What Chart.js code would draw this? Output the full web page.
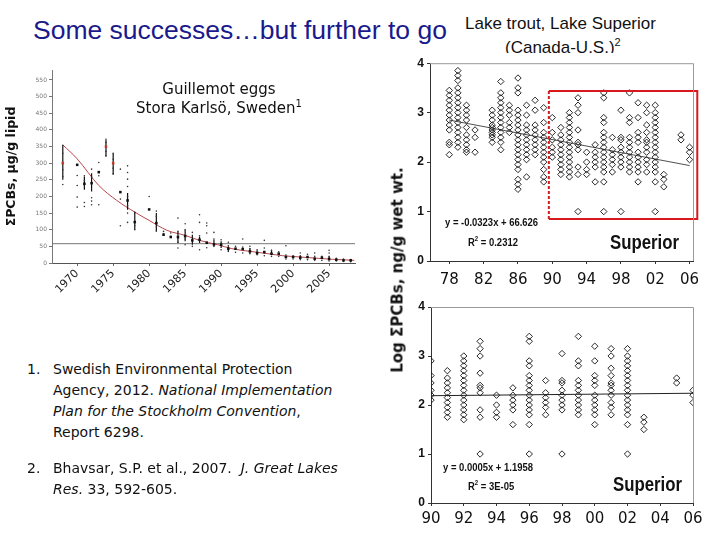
<!DOCTYPE html>
<html>
<head>
<meta charset="utf-8">
<script src="https://cdn.jsdelivr.net/npm/chart.js@4/dist/chart.umd.min.js"></script>
<style>
body{margin:0;background:#fff;}
#page{position:relative;width:720px;height:540px;overflow:hidden;font-family:"DejaVu Sans",sans-serif;color:#111;}
.abs{position:absolute;white-space:nowrap;line-height:1;}
canvas{position:absolute;}
.eq{font-family:"Liberation Sans",sans-serif;font-weight:bold;font-size:11px;transform:scaleX(0.86);transform-origin:0 0;}
.lake{font-family:"Liberation Sans",sans-serif;font-weight:bold;font-size:21px;transform:scaleX(0.8);transform-origin:0 0;}
.ref{position:absolute;left:27px;font-size:14px;line-height:21px;}
.ref .n{position:absolute;left:0;}
.ref .t{margin-left:26px;}
sup{line-height:0;}
</style>
</head>
<body>
<div id="page">
  <div class="abs" style="left:33px;top:17px;font-family:'Liberation Sans',sans-serif;font-size:26.5px;color:#1a1a8c;">Some successes…but further to go</div>
  <div class="abs" style="left:465px;top:15px;font-family:'Liberation Sans',sans-serif;font-size:17px;">Lake trout, Lake Superior</div>
  <div class="abs" style="left:505px;top:39px;font-family:'Liberation Sans',sans-serif;font-size:17px;">(Canada-U.S.)<sup style="font-size:11px">2</sup></div>

  <canvas id="guillemot" width="370" height="240" style="left:0;top:60px"></canvas>
  <canvas id="trout_all" width="320" height="237" style="left:400px;top:53px;background:#fff"></canvas>
  <canvas id="trout_90" width="320" height="250" style="left:400px;top:290px"></canvas>

  <div class="abs" style="left:119px;top:80px;width:200px;text-align:center;font-size:15px;line-height:19px;">Guillemot eggs<br>Stora Karlsö, Sweden<sup style="font-size:10px">1</sup></div>

  <div class="abs" style="left:398px;top:270px;font-size:15px;font-weight:bold;transform:translate(-50%,-50%) rotate(-90deg);">Log ΣPCBs, ng/g wet wt.</div>

  <div class="abs eq" style="left:445px;top:217px;">y = -0.0323x + 66.626</div>
  <div class="abs eq" style="left:468px;top:237px;">R<sup style="font-size:7px">2</sup> = 0.2312</div>
  <div class="abs lake" style="left:610px;top:231px;">Superior</div>

  <div class="abs eq" style="left:443px;top:462px;">y = 0.0005x + 1.1958</div>
  <div class="abs eq" style="left:468px;top:481px;">R<sup style="font-size:7px">2</sup> = 3E-05</div>
  <div class="abs lake" style="left:613px;top:473px;">Superior</div>

  <div class="ref" style="top:359px;"><span class="n">1.</span><div class="t">Swedish Environmental Protection<br>Agency, 2012. <i>National Implementation<br>Plan for the Stockholm Convention</i>,<br>Report 6298.</div></div>
  <div class="ref" style="top:458px;"><span class="n">2.</span><div class="t">Bhavsar, S.P. et al., 2007.&nbsp; <i>J. Great Lakes<br>Res.</i> 33, 592-605.</div></div>
</div>
<script>
// Guillemot eggs, Stora Karlso - sum PCBs, ug/g lipid
var guilMeanYears = [1968,1970,1971,1972,1973,1974,1975,1976,1977,1978,1980,1981,1982,1983,1984,1985,1986,1987,1988,1989,1990,1991,1992,1993,1994,1995,1996,1997,1998,1999,2000,2001,2002,2003,2004,2005,2006,2007,2008];
var guilMeanValues = [300,295,238,240,273,350,300,213,188,123,161,120,85,78,78,81,68,70,61,56,55,43,43,42,35,30,33,28,28,18,18,16,18,13,16,12,10,8,8];
var guilRedYears = [1968,1974,1975];

var guilBarYears = [1968,1971,1972,1974,1975,1977,1978,1981,1984,1985,1986,1987,1989,1990,1991,1994,1995,1997,2001,2005];
var guilBarLow  = [250,220,215,320,265,160,100,95,60,65,55,60,50,45,35,28,25,25,12,8];
var guilBarHigh = [355,260,270,370,330,210,155,150,95,100,85,80,70,65,50,45,38,40,22,22];

var guilSampleYears = [1968,1970,1971,1972,1973,1974,1975,1976,1977,1978,1980,1981,1982,1983,1984,1985,1986,1987,1988,1989,1990,1991,1992,1993,1994,1995,1996,1997,1998,1999,2000,2001,2002,2003,2004,2005,2006,2007,2008];
var guilSamples = [
  [236,260,280,330],[168,198,233,263],[170,182,235,248,262],[175,186,196,258,282],[175,262,302],
  [322,335,348,362,372],[268,285,312,330],[112,192,282],[122,150,172,200,230,252,272,292],[100,112,150],
  [200],[96,108,140,156],[88,95],[80,90],[45,62,75,95,135],[55,72,100,118],[50,92],[40,82,122,145],
  [46,90,112,120],[50,72,92],[40,70],[35,52,62],[32,50],[30,48,72],[28,42,50],[25,40],[22,30,45,68],
  [20,38],[20,34],[12,24,52],[12,22],[10,22,30],[10,26],[8,20,30],[8,20],[6,18,30,38],[6,14],[5,12],[4,10]
];

var guilFitYears  = [1968,1970,1973,1975.5,1978,1980,1982.5,1985,1987,1989.5,1991.5,1994,1996.5,1998.5,2001,2003.5,2005.5,2008.5];
var guilFitValues = [355,313,233,188,153,128,98,83,68,55,43,35,28,22,18,14,11,8];
var guilTarget = 58;

var guilXTicks = [1970,1975,1980,1985,1990,1995,2000,2005];
var guilYTicks = [0,50,100,150,200,250,300,350,400,450,500,550];

// Lake trout, Lake Superior - log sum PCBs, ng/g wet wt.
var troutYears = [1978,1979,1980,1981,1983,1984,1985,1986,1987,1988,1989,1990,1991,1992,1993,1994,1995,1996,1997,1998,1999,2000,2001,2002,2003,2005,2006];
var troutValues = [
  [3.45,3.35,3.25,3.15,3.05,2.95,2.85,2.75,2.65,2.4,2.35,2.15],
  [3.85,3.75,3.65,3.5,3.4,3.3,3.2,3.1,3.0,2.9,2.8,2.7,2.6,2.5,2.4,2.3],
  [3.15,3.05,2.95,2.85,2.7,2.55,2.45,2.35,2.25,2.2],
  [2.65,2.5,2.2],
  [3.05,2.95,2.85,2.75,2.7,2.65,2.6,2.55,2.5,2.4],
  [3.63,3.4,3.3,3.2,3.1,3.0,2.9,2.8,2.7,2.6,2.5,2.4,2.25],
  [3.15,3.05,2.95,2.8,2.7,2.6],
  [3.7,3.5,3.4,3.05,2.95,2.85,2.75,2.65,2.55,2.45,2.35,2.25,2.15,2.05,1.95,1.85,1.65,1.55,1.45],
  [3.15,2.95,2.75,2.65,2.55,2.45,2.35,2.25,2.15,2.05,1.7],
  [3.25,3.05,2.75,2.65,2.55,2.45,2.35,2.25,2.15],
  [3.1,2.8,2.6,2.5,2.4,2.3,2.2,2.1,2.0,1.85,1.7,1.6],
  [2.9,2.6,2.45,2.3,2.2,2.1],
  [2.7,2.55,2.45,2.35,2.25,2.15,2.05,1.95,1.85,1.75],
  [3.0,2.9,2.8,2.7,2.6,2.5,2.4,2.3,2.2,2.1,2.0,1.9,1.8,1.7],
  [3.3,3.15,3.0,2.65,2.4,2.35,2.25,1.9,1.75,1.0],
  [2.2,2.0,1.85,1.75],
  [2.35,2.2,2.1,2.0,1.9,1.6],
  [3.4,3.3,2.9,2.8,2.6,2.5,2.4,2.3,2.2,2.1,2.0,1.9,1.8,1.6,1.0],
  [2.5,2.25,2.15,2.05,1.95,1.8],
  [3.05,2.5,2.45,2.3,2.2,2.1,2.0,1.9,1.0],
  [3.4,2.9,2.8,2.5,2.4,2.3,2.2,2.1,2.0,1.9,1.8],
  [3.2,2.9,2.6,2.5,2.4,2.2,2.1,2.0,1.9,1.8,1.6],
  [3.15,3.0,2.75,2.6,2.45,2.4,2.3,2.2,2.05,1.95,1.8],
  [3.15,3.0,2.9,2.8,2.7,2.6,2.5,2.4,2.3,2.2,2.1,2.0,1.9,1.8,1.6,1.0],
  [1.75,1.65,1.5],
  [2.55,2.45],
  [2.3,2.2,2.05]
];
var troutTrendYears = [1978,2006];
var troutTrendValues = [2.85,1.93];
var recentTrendYears = [1990,2006];
var recentTrendValues = [2.19,2.24];
var boxYears = [1989.6,2006.9];
var boxValues = [0.85,3.44];

var troutYTicks = [0,1,2,3,4];
var troutXTicks = [1978,1982,1986,1990,1994,1998,2002,2006];
var recentXTicks = [1990,1992,1994,1996,1998,2000,2002,2004,2006];

function pairs(xs, ys) {
  return xs.map(function (x, i) { return {x: x, y: ys[i]}; });
}
function spread(years, lists, fromYear) {
  var out = [];
  years.forEach(function (yr, i) {
    if (yr < fromYear) return;
    lists[i].forEach(function (v) { out.push({x: yr, y: v}); });
  });
  return out;
}
// low-high segments separated by gaps, drawn as one line dataset
function whiskers(xs, lo, hi) {
  var out = [];
  xs.forEach(function (x, i) {
    out.push({x: x, y: lo[i]}, {x: x, y: hi[i]}, {x: x, y: null});
  });
  return out;
}
function fixTicks(list) {
  return function (scale) { scale.ticks = list.map(function (v) { return {value: v}; }); };
}

// grey frame on top and right of the trout plots
var frame = {
  id: 'frame',
  afterDraw: function (chart) {
    var a = chart.chartArea, ctx = chart.ctx;
    ctx.save();
    ctx.strokeStyle = '#999';
    ctx.lineWidth = 1;
    ctx.beginPath();
    ctx.moveTo(a.left, a.top + 0.5);
    ctx.lineTo(a.right + 0.5, a.top + 0.5);
    ctx.lineTo(a.right + 0.5, a.bottom);
    ctx.stroke();
    ctx.restore();
  }
};

var highlightBox = {
  id: 'highlightBox',
  afterDatasetsDraw: function (chart) {
    var x = chart.scales.x, y = chart.scales.y, ctx = chart.ctx;
    var l = x.getPixelForValue(boxYears[0]), r = x.getPixelForValue(boxYears[1]);
    var t = y.getPixelForValue(boxValues[1]), b = y.getPixelForValue(boxValues[0]);
    ctx.save();
    ctx.strokeStyle = '#d7191c';
    ctx.lineWidth = 2;
    ctx.beginPath();
    ctx.moveTo(l, t); ctx.lineTo(r, t); ctx.lineTo(r, b); ctx.lineTo(l, b);
    ctx.stroke();
    ctx.setLineDash([3, 2]);
    ctx.beginPath();
    ctx.moveTo(l, b); ctx.lineTo(l, t);
    ctx.stroke();
    ctx.restore();
  }
};

//Guillemot eggs
var guilChart = new Chart(
  document.getElementById('guillemot'),
  {
    type: 'scatter',
    data: {
      datasets: [
        {
          data: pairs(guilMeanYears, guilMeanValues),
          pointStyle: 'rect',
          pointRadius: 1.8,
          borderWidth: 0,
          backgroundColor: function (c) {
            return c.raw && guilRedYears.indexOf(c.raw.x) >= 0 ? '#c0392b' : '#111';
          }
        },
        {
          data: spread(guilSampleYears, guilSamples, 0),
          pointRadius: 0.8,
          borderWidth: 0,
          backgroundColor: '#333'
        },
        {
          type: 'line',
          data: whiskers(guilBarYears, guilBarLow, guilBarHigh),
          borderColor: '#111',
          borderWidth: 1.2,
          pointRadius: 0,
          spanGaps: false
        },
        {
          type: 'line',
          data: pairs(guilFitYears, guilFitValues),
          borderColor: '#b8454a',
          borderWidth: 1,
          pointRadius: 0,
          cubicInterpolationMode: 'monotone'
        },
        {
          type: 'line',
          data: [{x: 1966.5, y: guilTarget}, {x: 2008.6, y: guilTarget}],
          borderColor: '#777',
          borderWidth: 1,
          pointRadius: 0
        }
      ]
    },
    options: {
      responsive: false,
      animation: false,
      layout: {padding: {top: 10, right: 15, left: 0, bottom: 0}},
      plugins: {legend: {display: false}, tooltip: {enabled: false}},
      scales: {
        x: {
          type: 'linear',
          min: 1966.5,
          max: 2008.6,
          offset: false,
          afterBuildTicks: fixTicks(guilXTicks),
          afterFit: function (s) { s.height = 37; },
          grid: {drawOnChartArea: false, tickLength: 3, color: '#666'},
          border: {color: '#555'},
          ticks: {
            minRotation: 45, maxRotation: 45, padding: 1,
            font: {size: 11, family: 'DejaVu Sans'}, color: '#222',
            callback: function (v) { return String(v); }
          }
        },
        y: {
          min: 0,
          max: 580,
          afterBuildTicks: fixTicks(guilYTicks),
          afterFit: function (s) { s.width = 52; },
          grid: {drawOnChartArea: false, tickLength: 3, color: '#777'},
          border: {color: '#777'},
          ticks: {font: {size: 6, family: 'DejaVu Sans'}, color: '#777', padding: 2},
          title: {
            display: true,
            text: 'ΣPCBs, μg/g lipid',
            font: {size: 12.5, weight: 'bold', family: 'DejaVu Sans'},
            color: '#111',
            padding: {top: 4, bottom: 0}
          }
        }
      }
    }
  });

function troutOptions(xMin, xMax, xTicks, padTop, xHeight, yWidth, labelPad) {
  return {
    responsive: false,
    animation: false,
    layout: {padding: {top: padTop, right: 27, left: 0, bottom: 0}},
    plugins: {legend: {display: false}, tooltip: {enabled: false}},
    scales: {
      x: {
        type: 'linear',
        min: xMin,
        max: xMax,
        afterBuildTicks: fixTicks(xTicks),
        afterFit: function (s) { s.height = xHeight; },
        grid: {drawOnChartArea: false, tickLength: 3, color: '#333'},
        border: {color: '#333'},
        ticks: {
          maxRotation: 0, padding: labelPad,
          font: {size: 15, family: 'DejaVu Sans'}, color: '#111',
          callback: function (v) { return String(v).slice(2); }
        }
      },
      y: {
        min: 0,
        max: 4,
        afterBuildTicks: fixTicks(troutYTicks),
        afterFit: function (s) { s.width = yWidth; },
        grid: {drawOnChartArea: false, tickLength: 3, color: '#333'},
        border: {color: '#333'},
        ticks: {font: {size: 12, weight: 'bold', family: 'Liberation Sans'}, color: '#111', padding: 3}
      }
    }
  };
}

var diamond = {
  pointStyle: 'rectRot',
  pointRadius: 3.2,
  borderWidth: 0.9,
  borderColor: '#111',
  backgroundColor: 'rgba(255,255,255,0)'
};

//Lake trout 1978-2006
var troutAll = new Chart(
  document.getElementById('trout_all'),
  {
    type: 'scatter',
    data: {
      datasets: [
        {
          type: 'line',
          data: pairs(troutTrendYears, troutTrendValues),
          borderColor: '#222',
          borderWidth: 0.8,
          pointRadius: 0
        },
        Object.assign({data: spread(troutYears, troutValues, 0)}, diamond)
      ]
    },
    options: troutOptions(1975.75, 2006.4, troutXTicks, 7, 29, 30, 7),
    plugins: [frame, highlightBox]
  });

//Lake trout 1990-2006
var trout90 = new Chart(
  document.getElementById('trout_90'),
  {
    type: 'scatter',
    data: {
      datasets: [
        {
          type: 'line',
          data: pairs(recentTrendYears, recentTrendValues),
          borderColor: '#222',
          borderWidth: 1,
          pointRadius: 0
        },
        Object.assign({data: spread(troutYears, troutValues, 1990)}, diamond)
      ]
    },
    options: troutOptions(1990, 2006, recentXTicks, 17, 37, 31, 4),
    plugins: [frame]
  });
</script>
</body>
</html>
